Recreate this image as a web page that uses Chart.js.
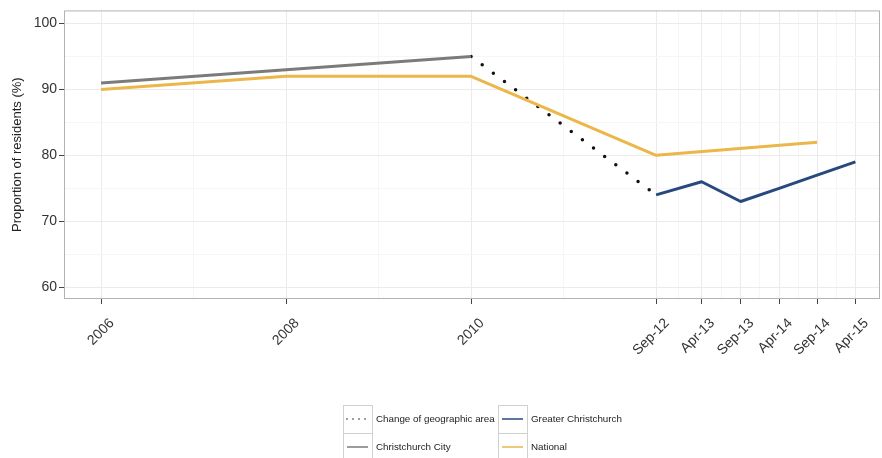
<!DOCTYPE html>
<html>
<head>
<meta charset="utf-8">
<script src="https://cdn.jsdelivr.net/npm/chart.js@4"></script>
<style>
  html, body { margin: 0; padding: 0; background: #fff; }
  #wrap { width: 882px; height: 458px; position: relative; }
</style>
</head>
<body>
<div id="wrap"><canvas id="chart"></canvas></div>
<script>
// ==========================================
// DATA
// ==========================================
// x values are the positions on the survey axis (first three are 2-yearly, then half-yearly)
const xValues = [0, 1, 2, 3, 3.246, 3.457, 3.665, 3.87, 4.077];
const xLabels = ['2006', '2008', '2010', 'Sep-12', 'Apr-13', 'Sep-13', 'Apr-14', 'Sep-14', 'Apr-15'];
const yTicks = [60, 70, 80, 90, 100];

const christchurchCity = [91, 93, 95, null, null, null, null, null, null];
const national = [90, 92, 92, 80, null, null, null, 82, null];
const greaterChristchurch = [null, null, null, 74, 76, 73, 75, 77, 79];
const changeOfArea = [null, null, 95, 74, null, null, null, null, null];

const FONT = '"Liberation Sans", Arial, sans-serif';

// turn a series into {x,y} points, dropping empty slots
function toPoints(values) {
  return values.map((v, i) => ({ x: xValues[i], y: v })).filter(p => p.y !== null);
}

// major ticks plus the ggplot-style minor breaks halfway between them
function withMinor(values) {
  const list = [];
  values.forEach((v, i) => {
    if (i > 0) list.push({ value: (values[i - 1] + v) / 2, minor: true });
    list.push({ value: v, minor: false });
  });
  return list;
}

const gridColor = ctx => ctx.tick && ctx.tick.minor ? '#f6f6f6' : '#ebebeb';
const tickColor = ctx => ctx.tick && ctx.tick.minor ? 'rgba(0,0,0,0)' : '#444';

// ==========================================
// PLUGINS: panel border + ggplot style legend
// ==========================================
const panelBorder = {
  id: 'panelBorder',
  afterDatasetsDraw(chart) {
    const a = chart.chartArea, c = chart.ctx;
    c.save();
    c.strokeStyle = '#b3b3b3';
    c.lineWidth = 1;
    c.strokeRect(a.left + 0.5, a.top + 0.5, a.right - a.left - 1, a.bottom - a.top - 1);
    c.restore();
  }
};

const legendKeys = {
  id: 'legendKeys',
  afterDraw(chart) {
    const c = chart.ctx;
    // column-major order like ggplot
    const order = [3, 0, 2, 1];
    const cols = [{ x: 343, w: 29 }, { x: 498, w: 29 }];
    const rowTop = 405, rowH = 28;
    c.save();
    c.font = '9.8px ' + FONT;
    c.textBaseline = 'middle';
    order.forEach((dsIndex, k) => {
      const ds = chart.data.datasets[dsIndex];
      const col = cols[Math.floor(k / 2)];
      const top = rowTop + (k % 2) * rowH;
      c.fillStyle = '#fff';
      c.fillRect(col.x, top, col.w, rowH);
      c.strokeStyle = '#d0d0d0';
      c.lineWidth = 1;
      c.strokeRect(col.x + 0.5, top + 0.5, col.w, rowH);
      const cy = top + rowH / 2;
      c.beginPath();
      c.moveTo(col.x + 4, cy);
      c.lineTo(col.x + col.w - 4, cy);
      c.strokeStyle = ds.borderColor;
      c.lineWidth = 1.5;
      c.lineCap = ds.borderDash ? 'round' : 'butt';
      c.setLineDash(ds.borderDash ? [0, 6] : []);
      c.stroke();
      c.setLineDash([]);
      c.fillStyle = '#222';
      c.fillText(ds.label, col.x + col.w + 4, cy);
    });
    c.restore();
  }
};

// ==========================================
// CHART
// ==========================================
new Chart(document.getElementById('chart'), {
  type: 'line',
  data: {
    datasets: [
      { label: 'Christchurch City', data: toPoints(christchurchCity), borderColor: '#7b7b7b', borderWidth: 3 },
      { label: 'National', data: toPoints(national), borderColor: '#ebb64a', borderWidth: 3 },
      { label: 'Greater Christchurch', data: toPoints(greaterChristchurch), borderColor: '#27497f', borderWidth: 3 },
      { label: 'Change of geographic area', data: toPoints(changeOfArea), borderColor: '#111', borderWidth: 3.5,
        borderDash: [0, 13.9], borderCapStyle: 'round' }
    ]
  },
  options: {
    responsive: true,
    maintainAspectRatio: false,
    animation: false,
    events: [],
    layout: { padding: { top: 10, right: 2, left: 0, bottom: 0 } },
    elements: { point: { radius: 0 }, line: { tension: 0, borderJoinStyle: 'round' } },
    plugins: { legend: { display: false }, tooltip: { enabled: false } },
    scales: {
      x: {
        type: 'linear',
        min: -0.2,
        max: 4.21,
        afterBuildTicks: scale => { scale.ticks = withMinor(xValues); },
        afterFit: scale => { scale.height = 159; },
        border: { display: false },
        grid: { color: gridColor, tickColor: tickColor, tickLength: 5, lineWidth: 1 },
        ticks: {
          autoSkip: false,
          minRotation: 45,
          maxRotation: 45,
          padding: 11,
          labelOffset: 11,
          color: '#333',
          font: { family: FONT, size: 14 },
          callback: function (value) {
            const i = xValues.indexOf(value);
            return i >= 0 ? xLabels[i] : '';
          }
        }
      },
      y: {
        min: 58.2,
        max: 102,
        afterBuildTicks: scale => { scale.ticks = withMinor(yTicks); },
        afterFit: scale => { scale.width = 64; },
        border: { display: false },
        grid: { color: gridColor, tickColor: tickColor, tickLength: 5, lineWidth: 1 },
        title: {
          display: true,
          text: 'Proportion of residents (%)',
          color: '#222',
          font: { family: FONT, size: 13 },
          padding: { top: 10, bottom: 0 }
        },
        ticks: {
          autoSkip: false,
          padding: 2,
          color: '#333',
          font: { family: FONT, size: 14 },
          callback: value => yTicks.includes(value) ? String(value) : ''
        }
      }
    }
  },
  plugins: [panelBorder, legendKeys]
});
</script>
</body>
</html>
